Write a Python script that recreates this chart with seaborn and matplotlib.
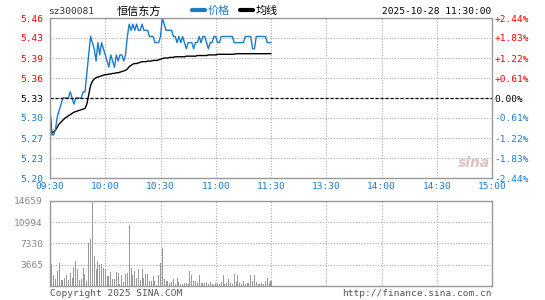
import numpy as np
import pandas as pd
import matplotlib
matplotlib.use('Agg')
import matplotlib.pyplot as plt
import seaborn as sns
from matplotlib.lines import Line2D

# minute-by-minute data for the morning session, 09:30 - 11:30
price = [5.30, 5.27, 5.27, 5.28, 5.30, 5.31, 5.32, 5.33, 5.33, 5.33,
         5.33, 5.34, 5.33, 5.32, 5.33, 5.33, 5.33, 5.33, 5.34, 5.34,
         5.37, 5.40, 5.43, 5.42, 5.41, 5.39, 5.42, 5.40, 5.42, 5.41,
         5.40, 5.39, 5.38, 5.40, 5.39, 5.38, 5.40, 5.39, 5.40, 5.40,
         5.39, 5.40, 5.43, 5.45, 5.44, 5.45, 5.44, 5.45, 5.44, 5.44,
         5.45, 5.44, 5.44, 5.44, 5.43, 5.43, 5.43, 5.42, 5.42, 5.42,
         5.43, 5.46, 5.45, 5.44, 5.44, 5.44, 5.44, 5.43, 5.43, 5.42,
         5.43, 5.42, 5.43, 5.42, 5.41, 5.42, 5.42, 5.42, 5.41, 5.42,
         5.42, 5.43, 5.42, 5.43, 5.43, 5.42, 5.41, 5.42, 5.42, 5.43,
         5.43, 5.42, 5.42, 5.43, 5.43, 5.43, 5.43, 5.43, 5.43, 5.43,
         5.42, 5.42, 5.42, 5.42, 5.42, 5.42, 5.43, 5.43, 5.43, 5.43,
         5.41, 5.41, 5.43, 5.43, 5.43, 5.43, 5.43, 5.43, 5.42, 5.42,
         5.42]

avg = [5.310, 5.273, 5.275, 5.278, 5.283, 5.288, 5.291, 5.294, 5.297, 5.299,
       5.301, 5.303, 5.305, 5.307, 5.308, 5.309, 5.310, 5.311, 5.312, 5.313,
       5.320, 5.335, 5.350, 5.357, 5.361, 5.363, 5.364, 5.365, 5.366, 5.367,
       5.368, 5.368, 5.369, 5.369, 5.370, 5.370, 5.371, 5.371, 5.372, 5.373,
       5.374, 5.375, 5.377, 5.381, 5.383, 5.385, 5.386, 5.386, 5.387, 5.388,
       5.389, 5.389, 5.389, 5.390, 5.390, 5.390, 5.391, 5.391, 5.391, 5.392,
       5.393, 5.394, 5.395, 5.395, 5.395, 5.396, 5.396, 5.396, 5.397, 5.397,
       5.397, 5.397, 5.397, 5.397, 5.398, 5.398, 5.398, 5.398, 5.398, 5.398,
       5.399, 5.399, 5.399, 5.399, 5.399, 5.399, 5.400, 5.400, 5.400, 5.400,
       5.400, 5.401, 5.401, 5.401, 5.401, 5.401, 5.401, 5.401, 5.401, 5.401,
       5.401, 5.402, 5.402, 5.402, 5.402, 5.402, 5.402, 5.402, 5.402, 5.402,
       5.402, 5.402, 5.402, 5.402, 5.402, 5.402, 5.402, 5.402, 5.402, 5.402,
       5.402]

volume = [700, 3750, 1850, 1270, 2540, 3980, 1000, 1100, 1450, 1850,
          1100, 2300, 1450, 3300, 4270, 2900, 1000, 1150, 3150, 2100,
          850, 7330, 8080, 14659, 5135, 2900, 4270, 3600, 3800, 3150,
          3000, 1700, 1800, 2400, 1150, 1150, 2400, 2200, 400, 1850,
          650, 2000, 2300, 10500, 3100, 1900, 2600, 1450, 3000, 1000,
          2900, 1450, 2000, 2000, 850, 900, 1700, 900, 200, 1850,
          4000, 6600, 1150, 900, 900, 500, 700, 1150, 300, 1450,
          700, 350, 300, 450, 450, 400, 2600, 1900, 900, 900,
          450, 1900, 600, 450, 450, 600, 300, 700, 300, 150,
          500, 600, 300, 700, 1850, 400, 600, 1270, 500, 300,
          2000, 700, 1850, 500, 400, 800, 300, 500, 600, 1850,
          900, 1850, 700, 300, 400, 500, 300, 900, 1450, 600,
          800]

time_labels = ['09:30', '10:00', '10:30', '11:00', '11:30', '13:30', '14:00', '14:30', '15:00']
price_ticks = [5.20, 5.2325, 5.265, 5.2975, 5.33, 5.3625, 5.395, 5.4275, 5.46]
price_labels = ['5.20', '5.23', '5.27', '5.30', '5.33', '5.36', '5.39', '5.43', '5.46']
pct_labels = ['-2.44%', '-1.83%', '-1.22%', '-0.61%', '0.00%', '+0.61%', '+1.22%', '+1.83%', '+2.44%']
vol_ticks = [0, 3665, 7330, 10994, 14659]
vol_labels = ['', '3665', '7330', '10994', '14659']
prev_close = 5.33

df = pd.DataFrame({'minute': np.arange(len(price)), 'price': price, 'avg': avg, 'volume': volume})

sns.set_style('white')
plt.rcParams['font.family'] = ['DejaVu Sans Mono', 'Noto Sans CJK SC']

blue = '#1a7cc9'
red = '#ff0000'
gray = '#999999'
mono = 'DejaVu Sans Mono'
fs = 6.8

fig = plt.figure(figsize=(5.45, 3.0), dpi=100)
ax = fig.add_axes([50 / 545, 1 - 178 / 300, 442 / 545, 160 / 300])
axv = fig.add_axes([50 / 545, 1 - 286 / 300, 442 / 545, 85 / 300])

# price chart
sns.lineplot(data=df, x='minute', y='avg', ax=ax, color='black', lw=1, estimator=None)
sns.lineplot(data=df, x='minute', y='price', ax=ax, color=blue, lw=1, estimator=None)
ax.axhline(prev_close, color='black', lw=0.9, ls=(0, (2.5, 1.5)))
ax.set_xlim(0, 240)
ax.set_ylim(price_ticks[0], price_ticks[-1])
ax.set_xticks(np.arange(0, 241, 30))
ax.set_xticklabels(time_labels, fontsize=fs, color=blue, family=mono)
ax.set_yticks(price_ticks)
ax.set_yticklabels(price_labels, fontsize=fs, family=mono)
for lab, v in zip(ax.get_yticklabels(), price_ticks):
    lab.set_color(red if v > prev_close + 1e-6 else ('black' if abs(v - prev_close) < 1e-6 else blue))
ax.tick_params(length=0, pad=5)
ax.tick_params(axis='x', pad=3)
ax.set_xlabel('')
ax.set_ylabel('')
ax.grid(True, color='#aaaaaa', ls=(0, (1, 1.5)), lw=0.8)
for s in ax.spines.values():
    s.set_color(gray)
    s.set_linewidth(1)

ax2 = ax.twinx()
ax2.set_ylim(price_ticks[0], price_ticks[-1])
ax2.set_yticks(price_ticks)
ax2.set_yticklabels(pct_labels, fontsize=fs, family=mono)
for lab, v in zip(ax2.get_yticklabels(), price_ticks):
    lab.set_color(red if v > prev_close + 1e-6 else ('black' if abs(v - prev_close) < 1e-6 else blue))
ax2.tick_params(length=0, pad=2)
for s in ax2.spines.values():
    s.set_visible(False)

# volume chart
axv.bar(df['minute'], df['volume'], width=0.55, color=gray, linewidth=0)
axv.set_xlim(0, 240)
axv.set_ylim(0, vol_ticks[-1])
axv.set_xticks(np.arange(0, 241, 30))
axv.set_xticklabels([])
axv.set_yticks(vol_ticks)
axv.set_yticklabels(vol_labels, fontsize=fs, color='#888888', family=mono)
axv.tick_params(length=0, pad=5)
axv.grid(True, color='#aaaaaa', ls=(0, (1, 1.5)), lw=0.8)
for s in axv.spines.values():
    s.set_color(gray)
    s.set_linewidth(1)

# header
fig.text(48 / 545, 1 - 11 / 300, 'sz300081', fontsize=fs, family=mono, color='#333333', va='center')
fig.text(117 / 545, 1 - 11 / 300, '恒信东方', fontsize=8, family=['Noto Sans CJK SC'], color='black', va='center')
fig.add_artist(Line2D([192 / 545, 205 / 545], [1 - 10 / 300] * 2, color=blue, lw=3, transform=fig.transFigure))
fig.text(208 / 545, 1 - 11 / 300, '价格', fontsize=8, family=['Noto Sans CJK SC'], color=blue, va='center')
fig.add_artist(Line2D([240 / 545, 253 / 545], [1 - 10 / 300] * 2, color='black', lw=3, transform=fig.transFigure))
fig.text(256 / 545, 1 - 11 / 300, '均线', fontsize=8, family=['Noto Sans CJK SC'], color='black', va='center')
fig.text(491 / 545, 1 - 11 / 300, '2025-10-28 11:30:00', fontsize=fs, family=mono, color='black', va='center', ha='right')

# watermark and footer
fig.text(474 / 545, 1 - 163 / 300, 'sina', fontsize=10, family='DejaVu Sans', style='italic',
         weight='bold', color='#e0c0c0', ha='center', va='center')
fig.text(50 / 545, 1 - 293 / 300, 'Copyright 2025 SINA.COM', fontsize=fs, family=mono, color='#555555', va='center')
fig.text(492 / 545, 1 - 293 / 300, 'http://finance.sina.com.cn', fontsize=fs, family=mono, color='#555555',
         va='center', ha='right')

fig.savefig('out.png', dpi=100)
